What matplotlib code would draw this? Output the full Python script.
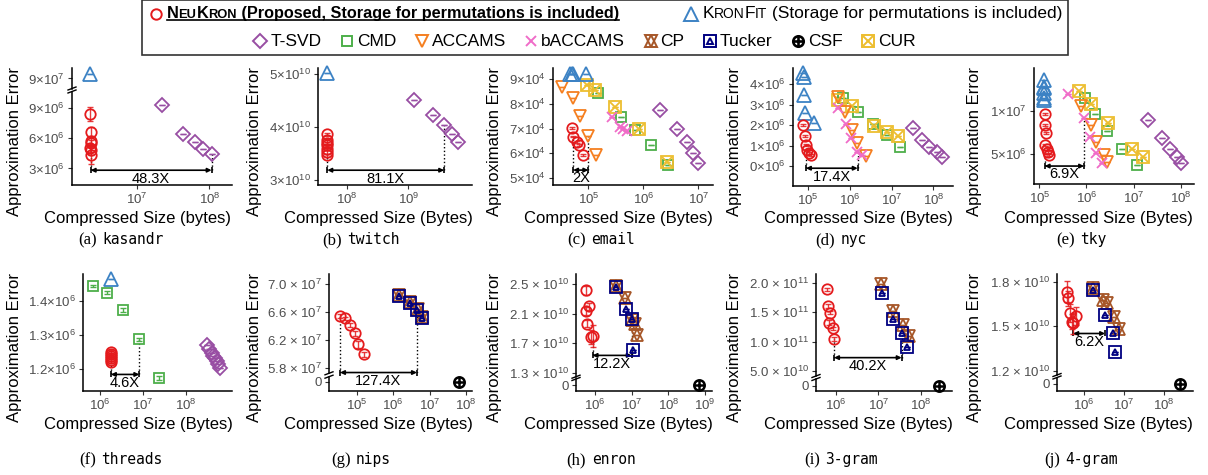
import matplotlib

matplotlib.use("Agg")
import matplotlib.pyplot as plt
import numpy as np
from matplotlib.lines import Line2D
from matplotlib.offsetbox import AnchoredOffsetbox, DrawingArea, HPacker, TextArea, VPacker

plt.rcParams["font.family"] = ["Liberation Sans", "DejaVu Sans"]
plt.rcParams["mathtext.fontset"] = "custom"
plt.rcParams["mathtext.rm"] = "Liberation Sans"
plt.rcParams["mathtext.it"] = "Liberation Sans:italic"
plt.rcParams["mathtext.default"] = "regular"

W, H = 1208, 475

# ---------------------------------------------------------------- data
# (a) kasandr
KAS_NEUKRON_X = [2.30e6, 2.33e6, 2.35e6, 2.33e6, 2.31e6, 2.34e6, 2.36e6]
KAS_NEUKRON_Y = [8.35e6, 6.62e6, 5.70e6, 5.48e6, 4.98e6, 4.81e6, 4.32e6]
KAS_NEUKRON_ERR = [0.7e6, 0.45e6, 0.4e6, 0.35e6, 0.4e6, 0.5e6, 0.9e6]
KAS_KRONFIT_X = [2.30e6]
KAS_KRONFIT_Y = [9.09e7]
KAS_TSVD_X = [2.25e7, 4.37e7, 6.34e7, 8.24e7, 1.07e8]
KAS_TSVD_Y = [9.27e6, 6.43e6, 5.57e6, 4.91e6, 4.42e6]
KAS_ARROW = (2.33e6, 1.07e8, 2.83e6, 4.32e6, 4.42e6, "48.3X")

# (b) twitch
TW_NEUKRON_X = [4.85e7, 4.87e7, 4.86e7, 4.88e7, 4.86e7, 4.85e7, 4.87e7]
TW_NEUKRON_Y = [3.862e10, 3.749e10, 3.706e10, 3.655e10, 3.592e10, 3.528e10, 3.466e10]
TW_NEUKRON_ERR = [0.03e10, 0.03e10, 0.02e10, 0.02e10, 0.02e10, 0.03e10, 0.03e10]
TW_KRONFIT_X = [4.86e7]
TW_KRONFIT_Y = [5.01e10]
TW_TSVD_X = [1.24e9, 2.54e9, 3.79e9, 5.05e9, 6.46e9]
TW_TSVD_Y = [4.504e10, 4.234e10, 4.032e10, 3.875e10, 3.717e10]
TW_ARROW = (4.86e7, 3.79e9, 3.185e10, 3.466e10, 4.032e10, "81.1X")

# (c) email
EM_NEUKRON_X = [4.99e4, 5.3e4, 6.15e4, 6.86e4, 8.11e4]
EM_NEUKRON_Y = [7.04e4, 6.68e4, 6.45e4, 6.34e4, 5.94e4]
EM_NEUKRON_ERR = [0.04e4, 0.03e4, 0.03e4, 0.03e4, 0.03e4]
EM_KRONFIT_X = [4.7e4, 5.0e4, 5.3e4, 9.1e4]
EM_KRONFIT_Y = [9.2e4, 9.22e4, 9.2e4, 9.22e4]
EM_ACCAMS_X = [3.38e4, 5.27e4, 7.06e4, 1.0e5, 1.38e5]
EM_ACCAMS_Y = [8.70e4, 8.25e4, 7.51e4, 6.70e4, 5.93e4]
EM_CUR_X = [9.6e4, 1.32e5, 3.06e5, 8.45e5, 2.66e6]
EM_CUR_Y = [8.77e4, 8.57e4, 7.89e4, 6.99e4, 5.66e4]
EM_CMD_X = [1.52e5, 3.93e5, 7.08e5, 1.38e6, 2.85e6]
EM_CMD_Y = [8.46e4, 7.49e4, 6.95e4, 6.34e4, 5.53e4]
EM_BACCAMS_X = [2.66e5, 3.77e5, 4.33e5, 4.98e5]
EM_BACCAMS_Y = [7.49e4, 7.08e4, 6.99e4, 6.91e4]
EM_TSVD_X = [2.01e6, 4.05e6, 6.15e6, 8.11e6, 1.0e7]
EM_TSVD_Y = [7.76e4, 6.99e4, 6.45e4, 6.0e4, 5.62e4]
EM_ARROW = (5.3e4, 1.0e5, 5.32e4, 6.68e4, 6.70e4, "2X")

# (d) nyc
NY_NEUKRON_X = [7.6e4, 8.3e4, 8.8e4, 9.5e4, 1.06e5, 1.14e5]
NY_NEUKRON_Y = [2.0e6, 1.47e6, 1.02e6, 0.78e6, 0.62e6, 0.54e6]
NY_NEUKRON_ERR = [0.05e6, 0.05e6, 0.05e6, 0.05e6, 0.05e6, 0.05e6]
NY_KRONFIT_X = [7.6e4, 7.9e4, 7.9e4, 8.3e4, 1.38e5]
NY_KRONFIT_Y = [4.54e6, 4.37e6, 3.48e6, 2.58e6, 2.09e6]
NY_ACCAMS_X = [5.24e5, 7.59e5, 1.1e6, 1.44e6, 2.38e6]
NY_ACCAMS_Y = [3.39e6, 2.63e6, 1.76e6, 1.11e6, 0.5e6]
NY_CMD_X = [6.92e5, 1.58e6, 3.63e6, 7.59e6, 1.58e7]
NY_CMD_Y = [3.31e6, 2.66e6, 2.04e6, 1.51e6, 0.94e6]
NY_CUR_X = [5.24e5, 1.1e6, 3.77e6, 7.59e6, 1.44e7]
NY_CUR_Y = [3.23e6, 2.95e6, 1.97e6, 1.65e6, 1.48e6]
NY_BACCAMS_X = [5.24e5, 8.0e5, 1.04e6, 1.5e6, 1.9e6]
NY_BACCAMS_Y = [2.82e6, 2.04e6, 1.35e6, 0.70e6, 0.53e6]
NY_TSVD_X = [3.18e7, 5.24e7, 7.95e7, 1.2e8, 1.58e8]
NY_TSVD_Y = [1.87e6, 1.27e6, 0.94e6, 0.67e6, 0.45e6]
NY_ARROW = (8.8e4, 1.53e6, -0.11e6, 1.02e6, 0.70e6, "17.4X")

# (e) tky
TK_NEUKRON_X = [1.32e5, 1.32e5, 1.37e5, 1.32e5, 1.48e5, 1.55e5, 1.63e5]
TK_NEUKRON_Y = [9.62e6, 8.37e6, 7.48e6, 6.05e6, 5.55e6, 5.2e6, 4.88e6]
TK_NEUKRON_ERR = [0.1e6, 0.1e6, 0.1e6, 0.1e6, 0.1e6, 0.1e6, 0.1e6]
TK_KRONFIT_X = [1.25e5, 1.27e5, 1.26e5, 1.25e5, 1.27e5, 1.26e5]
TK_KRONFIT_Y = [1.36e7, 1.283e7, 1.264e7, 1.206e7, 1.155e7, 1.128e7]
TK_BACCAMS_X = [3.98e5, 8.9e5, 1.2e6, 1.6e6, 2.1e6]
TK_BACCAMS_Y = [1.194e7, 9.22e6, 7.01e6, 5.08e6, 3.92e6]
TK_CUR_X = [7.07e5, 1.26e6, 2.92e6, 9.44e6, 1.57e7]
TK_CUR_Y = [1.233e7, 1.078e7, 8.64e6, 5.58e6, 4.69e6]
TK_CMD_X = [9.5e5, 1.52e6, 2.75e6, 5.58e6, 1.16e7]
TK_CMD_Y = [1.155e7, 9.62e6, 7.67e6, 5.55e6, 3.72e6]
TK_ACCAMS_X = [7.57e5, 1.23e6, 1.6e6, 2.35e6, 2.75e6]
TK_ACCAMS_Y = [1.062e7, 8.37e6, 6.36e6, 4.88e6, 4.03e6]
TK_TSVD_X = [2.06e7, 3.97e7, 5.96e7, 8.26e7, 1.0e8]
TK_TSVD_Y = [8.95e6, 6.9e6, 5.58e6, 4.69e6, 3.99e6]
TK_ARROW = (1.3e5, 8.9e5, 3.6e6, 4.88e6, 9.22e6, "6.9X")

# (f) threads
TH_NEUKRON_X = [1.78e6, 1.8e6, 1.82e6, 1.79e6, 1.81e6, 1.8e6]
TH_NEUKRON_Y = [1.251e6, 1.245e6, 1.24e6, 1.234e6, 1.228e6, 1.221e6]
TH_NEUKRON_ERR = [0.004e6, 0.004e6, 0.004e6, 0.004e6, 0.004e6, 0.004e6]
TH_KRONFIT_X = [1.8e6]
TH_KRONFIT_Y = [1.462e6]
TH_CMD_X = [6.75e5, 1.43e6, 3.36e6, 8.2e6, 2.39e7]
TH_CMD_Y = [1.443e6, 1.424e6, 1.373e6, 1.288e6, 1.174e6]
TH_CMD_ERR = [0.003e6, 0.005e6, 0.005e6, 0.004e6, 0.005e6]
TH_TSVD_X = [3.0e8, 3.45e8, 3.95e8, 4.3e8, 4.73e8, 5.15e8, 5.6e8, 6.2e8]
TH_TSVD_Y = [1.271e6, 1.26e6, 1.248e6, 1.24e6, 1.232e6, 1.224e6, 1.215e6, 1.203e6]
TH_ARROW = (1.8e6, 8.2e6, 1.185e6, 1.221e6, 1.288e6, "4.6X")

# (g) nips
NI_NEUKRON_X = [3.52e4, 4.82e4, 6.6e4, 9.0e4, 1.11e5, 1.59e5]
NI_NEUKRON_Y = [6.551e7, 6.514e7, 6.419e7, 6.30e7, 6.143e7, 6.0e7]
NI_NEUKRON_ERR = [0.03e7, 0.02e7, 0.03e7, 0.04e7, 0.05e7, 0.04e7]
NI_TUCKER_X = [1.45e6, 2.85e6, 4.5e6, 6.3e6]
NI_TUCKER_Y = [6.833e7, 6.729e7, 6.633e7, 6.514e7]
NI_CP_X = [1.45e6, 2.9e6, 4.7e6, 6.3e6]
NI_CP_Y = [6.85e7, 6.745e7, 6.65e7, 6.53e7]
NI_CSF_X = [6.6e7]
NI_CSF_Y = [0]
NI_ARROW = (3.52e4, 4.5e6, 5.74e7, 6.551e7, 6.633e7, "127.4X")

# (h) enron
EN_NEUKRON_X = [5.7e5, 7.0e5, 5.7e5, 6.2e5, 8.6e5, 7.8e5]
EN_NEUKRON_Y = [2.418e10, 2.2e10, 2.137e10, 1.965e10, 1.793e10, 1.783e10]
EN_NEUKRON_ERR = [0.06e10, 0.05e10, 0.05e10, 0.05e10, 0.15e10, 0.1e10]
EN_TUCKER_X = [3.67e6, 7.16e6, 1.0e7, 1.1e7]
EN_TUCKER_Y = [2.464e10, 2.156e10, 2.033e10, 1.611e10]
EN_CP_X = [3.67e6, 6.6e6, 1.0e7, 1.24e7, 1.43e7]
EN_CP_Y = [2.473e10, 2.305e10, 2.02e10, 1.956e10, 1.806e10]
EN_CSF_X = [7.0e8]
EN_CSF_Y = [0]
EN_ARROW = (8.6e5, 1.0e7, 1.534e10, 1.783e10, 2.033e10, "12.2X")

# (i) 3-gram
G3_NEUKRON_X = [6.0e5, 6.6e5, 7.2e5, 6.95e5, 8.3e5, 9.0e5]
G3_NEUKRON_Y = [1.888e11, 1.605e11, 1.492e11, 1.322e11, 1.227e11, 1.046e11]
G3_NEUKRON_ERR = [0.03e11, 0.03e11, 0.03e11, 0.04e11, 0.03e11, 0.03e11]
G3_TUCKER_X = [1.2e7, 2.2e7, 3.55e7, 4.67e7]
G3_TUCKER_Y = [1.82e11, 1.38e11, 1.142e11, 0.905e11]
G3_CP_X = [1.16e7, 2.26e7, 3.78e7, 5.4e7]
G3_CP_Y = [1.978e11, 1.525e11, 1.283e11, 1.097e11]
G3_CSF_X = [2.7e8]
G3_CSF_Y = [0]
G3_ARROW = (9.0e5, 3.55e7, 0.73e11, 1.046e11, 1.142e11, "40.2X")

# (j) 4-gram
G4_NEUKRON_X = [3.83e5, 4.0e5, 4.47e5, 6.3e5, 4.93e5, 5.4e5]
G4_NEUKRON_Y = [1.733e10, 1.688e10, 1.587e10, 1.569e10, 1.53e10, 1.52e10]
G4_NEUKRON_ERR = [0.07e10, 0.05e10, 0.06e10, 0.06e10, 0.05e10, 0.07e10]
G4_TUCKER_X = [1.65e6, 3.35e6, 5.2e6, 5.96e6]
G4_TUCKER_Y = [1.744e10, 1.576e10, 1.456e10, 1.328e10]
G4_CP_X = [1.65e6, 3.04e6, 3.69e6, 5.62e6, 7.64e6]
G4_CP_Y = [1.755e10, 1.677e10, 1.654e10, 1.56e10, 1.479e10]
G4_CSF_X = [2.5e8]
G4_CSF_Y = [0]
G4_ARROW = (5.4e5, 3.36e6, 1.452e10, 1.52e10, 1.452e10, "6.2X")

# ---------------------------------------------------------------- styles
COLORS = {
    "NeuKron": "#E41A1C",
    "KronFit": "#3C82C4",
    "T-SVD": "#984EA3",
    "CMD": "#4DAF4A",
    "ACCAMS": "#F57F20",
    "bACCAMS": "#F06CC8",
    "CP": "#A65628",
    "Tucker": "#000080",
    "CSF": "black",
    "CUR": "#EDBE2F",
}
MARKERS = {
    "NeuKron": [("o", 7.5)],
    "KronFit": [("^", 9.5)],
    "T-SVD": [("D", 7.0)],
    "CMD": [("s", 7.5)],
    "ACCAMS": [("v", 9.0)],
    "bACCAMS": [("x", 7.5)],
    "CP": [("^", 9.0), ("v", 9.0)],
    "Tucker": [("s", 8.0), ("^", 5.0)],
    "CSF": [("o", 7.5), ("+", 7.5)],
    "CUR": [("s", 8.0), ("x", 7.0)],
}
TICK_GRAY = "#4D4D4D"


def px_axes(fig, left, right, top, bottom):
    return fig.add_axes([left / W, 1 - bottom / H, (right - left) / W, (bottom - top) / H])


def style_axes(ax, bottom=True):
    ax.spines["top"].set_visible(False)
    ax.spines["right"].set_visible(False)
    ax.spines["bottom"].set_visible(bottom)
    for s in ("left", "bottom"):
        ax.spines[s].set_linewidth(1.1)
    ax.set_facecolor("none")
    ax.tick_params(axis="both", which="major", length=3, width=0.8, color="#333333",
                   labelcolor=TICK_GRAY, labelsize=9.5, pad=2)
    ax.tick_params(axis="x", which="minor", bottom=False)
    if not bottom:
        ax.tick_params(axis="x", which="both", bottom=False, labelbottom=False)


def add_series(ax, method, x, y, yerr=None):
    color = COLORS[method]
    if method != "CSF":
        err = np.zeros(len(x)) if yerr is None else yerr
        ax.errorbar(x, y, yerr=err, fmt="none", ecolor=color, elinewidth=1.0,
                    capsize=2.2, capthick=1.0, zorder=3, clip_on=False,
                    alpha=0.85 if method == "NeuKron" else 1.0)
    mew = 1.8 if method == "CSF" else 1.3
    for marker, ms in MARKERS[method]:
        ax.plot(x, y, ls="none", marker=marker, ms=ms, mfc="none", mec=color,
                mew=mew, zorder=4, clip_on=False)


def draw_arrow(ax, spec):
    x0, x1, ya, yp0, yp1, label = spec
    ax.plot([x0, x0], [ya, yp0], ls=":", color="black", lw=1.0, zorder=2)
    ax.plot([x1, x1], [ya, yp1], ls=":", color="black", lw=1.0, zorder=2)
    ax.annotate("", xy=(x1, ya), xytext=(x0, ya),
                arrowprops=dict(arrowstyle="<|-|>", color="black", lw=1.2,
                                mutation_scale=6, shrinkA=0, shrinkB=0),
                annotation_clip=False)
    ax.plot([x0, x1], [ya, ya], ls="none", marker="|", ms=5, mew=1.2, color="black",
            clip_on=False)
    ax.annotate(label, (np.sqrt(x0 * x1), ya), xytext=(0, -1), textcoords="offset points",
                ha="center", va="top", fontsize=10.5, annotation_clip=False)


def break_marks(fig, x, y_top, y_bot):
    for y in (y_top, y_bot):
        fig.add_artist(Line2D([(x - 4) / W, (x + 4) / W], [1 - (y + 1.5) / H, 1 - (y - 1.5) / H],
                              color="black", lw=1.0))


def decade_labels(ticks):
    return [r"$10^{%d}$" % round(np.log10(t)) for t in ticks]


PANELS = [
    dict(col=0, row=0, cap=("(a)", "kasandr"), lr=(72, 232), span=(91.5, 184.5),
         xlabel="Compressed Size (bytes)", xlim=(10**6.11, 10**8.31), xticks=[1e7, 1e8],
         ylim=(1.42e6, 10.6e6), yticks=[3e6, 6e6, 9e6],
         ylabels=["$3×10^{6}$", "$6×10^{6}$", "$9×10^{6}$"],
         series=[("T-SVD", KAS_TSVD_X, KAS_TSVD_Y, None),
                 ("NeuKron", KAS_NEUKRON_X, KAS_NEUKRON_Y, KAS_NEUKRON_ERR)],
         extra=dict(span=(68.3, 88.5), ylim=(8.8e7, 9.2e7), yticks=[9e7],
                    ylabels=["$9×10^{7}$"], side="top",
                    series=[("KronFit", KAS_KRONFIT_X, KAS_KRONFIT_Y, None)]),
         arrow=KAS_ARROW),
    dict(col=1, row=0, cap=("(b)", "twitch"), lr=(318, 472), span=(68.3, 185),
         xlabel="Compressed Size (Bytes)", xlim=(10**7.535, 10**10.03), xticks=[1e8, 1e9],
         ylim=(2.906e10, 5.107e10), yticks=[3e10, 4e10, 5e10],
         ylabels=["$3×10^{10}$", "$4×10^{10}$", "$5×10^{10}$"],
         series=[("T-SVD", TW_TSVD_X, TW_TSVD_Y, None),
                 ("KronFit", TW_KRONFIT_X, TW_KRONFIT_Y, None),
                 ("NeuKron", TW_NEUKRON_X, TW_NEUKRON_Y, TW_NEUKRON_ERR)],
         extra=None, arrow=TW_ARROW),
    dict(col=2, row=0, cap=("(c)", "email"), lr=(553, 713), span=(68.3, 185),
         xlabel="Compressed Size (Bytes)", xlim=(10**4.358, 10**7.267), xticks=[1e5, 1e6, 1e7],
         ylim=(4.716e4, 9.446e4), yticks=[5e4, 6e4, 7e4, 8e4, 9e4],
         ylabels=["$5×10^{4}$", "$6×10^{4}$", "$7×10^{4}$", "$8×10^{4}$", "$9×10^{4}$"],
         series=[("T-SVD", EM_TSVD_X, EM_TSVD_Y, None),
                 ("CMD", EM_CMD_X, EM_CMD_Y, None),
                 ("CUR", EM_CUR_X, EM_CUR_Y, None),
                 ("bACCAMS", EM_BACCAMS_X, EM_BACCAMS_Y, None),
                 ("ACCAMS", EM_ACCAMS_X, EM_ACCAMS_Y, None),
                 ("KronFit", EM_KRONFIT_X, EM_KRONFIT_Y, None),
                 ("NeuKron", EM_NEUKRON_X, EM_NEUKRON_Y, EM_NEUKRON_ERR)],
         extra=None, arrow=EM_ARROW),
    dict(col=3, row=0, cap=("(d)", "nyc"), lr=(793, 953), span=(68.3, 185.7),
         xlabel="Compressed Size (Bytes)", xlim=(10**4.633, 10**8.472),
         xticks=[1e5, 1e6, 1e7, 1e8],
         ylim=(-0.965e6, 4.78e6), yticks=[0, 1e6, 2e6, 3e6, 4e6],
         ylabels=["$0×10^{6}$", "$1×10^{6}$", "$2×10^{6}$", "$3×10^{6}$", "$4×10^{6}$"],
         series=[("T-SVD", NY_TSVD_X, NY_TSVD_Y, None),
                 ("CMD", NY_CMD_X, NY_CMD_Y, None),
                 ("CUR", NY_CUR_X, NY_CUR_Y, None),
                 ("ACCAMS", NY_ACCAMS_X, NY_ACCAMS_Y, None),
                 ("bACCAMS", NY_BACCAMS_X, NY_BACCAMS_Y, None),
                 ("KronFit", NY_KRONFIT_X, NY_KRONFIT_Y, None),
                 ("NeuKron", NY_NEUKRON_X, NY_NEUKRON_Y, NY_NEUKRON_ERR)],
         extra=None, arrow=NY_ARROW),
    dict(col=4, row=0, cap=("(e)", "tky"), lr=(1034, 1194), span=(68.3, 184.3),
         xlabel="Compressed Size (Bytes)", xlim=(10**4.887, 10**8.283),
         xticks=[1e5, 1e6, 1e7, 1e8],
         ylim=(1.48e6, 1.496e7), yticks=[5e6, 1e7],
         ylabels=["$5×10^{6}$", "$1×10^{7}$"],
         series=[("T-SVD", TK_TSVD_X, TK_TSVD_Y, None),
                 ("CMD", TK_CMD_X, TK_CMD_Y, None),
                 ("CUR", TK_CUR_X, TK_CUR_Y, None),
                 ("ACCAMS", TK_ACCAMS_X, TK_ACCAMS_Y, None),
                 ("bACCAMS", TK_BACCAMS_X, TK_BACCAMS_Y, None),
                 ("KronFit", TK_KRONFIT_X, TK_KRONFIT_Y, None),
                 ("NeuKron", TK_NEUKRON_X, TK_NEUKRON_Y, TK_NEUKRON_ERR)],
         extra=None, arrow=TK_ARROW),
    dict(col=0, row=1, cap=("(f)", "threads"), lr=(83, 232), span=(274, 391),
         xlabel="Compressed Size (Bytes)", xlim=(10**5.605, 10**9.07), xticks=[1e6, 1e7, 1e8],
         ylim=(1.1367e6, 1.478e6), yticks=[1.2e6, 1.3e6, 1.4e6],
         ylabels=["$1.2×10^{6}$", "$1.3×10^{6}$", "$1.4×10^{6}$"],
         series=[("T-SVD", TH_TSVD_X, TH_TSVD_Y, None),
                 ("CMD", TH_CMD_X, TH_CMD_Y, TH_CMD_ERR),
                 ("KronFit", TH_KRONFIT_X, TH_KRONFIT_Y, None),
                 ("NeuKron", TH_NEUKRON_X, TH_NEUKRON_Y, TH_NEUKRON_ERR)],
         extra=None, arrow=TH_ARROW),
    dict(col=1, row=1, cap=("(g)", "nips"), lr=(329, 472), span=(274, 373.3),
         xlabel="Compressed Size (Bytes)", xlim=(10**4.243, 10**8.164),
         xticks=[1e5, 1e6, 1e7, 1e8],
         ylim=(5.729e7, 7.147e7), yticks=[5.8e7, 6.2e7, 6.6e7, 7.0e7],
         ylabels=[r"$5.8\ ×\ 10^{7}$", r"$6.2\ ×\ 10^{7}$", r"$6.6\ ×\ 10^{7}$",
                  r"$7.0\ ×\ 10^{7}$"],
         series=[("CP", NI_CP_X, NI_CP_Y, None),
                 ("Tucker", NI_TUCKER_X, NI_TUCKER_Y, None),
                 ("NeuKron", NI_NEUKRON_X, NI_NEUKRON_Y, NI_NEUKRON_ERR)],
         extra=dict(span=(376.7, 391), ylim=(-0.65, 0.35), yticks=[0], ylabels=["0"],
                    side="bottom", series=[("CSF", NI_CSF_X, NI_CSF_Y, None)]),
         arrow=NI_ARROW),
    dict(col=2, row=1, cap=("(h)", "enron"), lr=(576, 712), span=(274, 376.7),
         xlabel="Compressed Size (Bytes)", xlim=(10**5.482, 10**9.19),
         xticks=[1e6, 1e7, 1e8, 1e9],
         ylim=(1.2456e10, 2.636e10), yticks=[1.3e10, 1.7e10, 2.1e10, 2.5e10],
         ylabels=[r"$1.3\ ×\ 10^{10}$", r"$1.7\ ×\ 10^{10}$", r"$2.1\ ×\ 10^{10}$",
                  r"$2.5\ ×\ 10^{10}$"],
         series=[("CP", EN_CP_X, EN_CP_Y, None),
                 ("Tucker", EN_TUCKER_X, EN_TUCKER_Y, None),
                 ("NeuKron", EN_NEUKRON_X, EN_NEUKRON_Y, EN_NEUKRON_ERR)],
         extra=dict(span=(379, 391), ylim=(-0.5, 0.5), yticks=[0], ylabels=["0"],
                    side="bottom", series=[("CSF", EN_CSF_X, EN_CSF_Y, None)]),
         arrow=EN_ARROW),
    dict(col=3, row=1, cap=("(i)", "3-gram"), lr=(816, 952), span=(274, 376),
         xlabel="Compressed Size (Bytes)", xlim=(10**5.527, 10**8.74),
         xticks=[1e6, 1e7, 1e8],
         ylim=(4.19e10, 2.147e11), yticks=[5e10, 1e11, 1.5e11, 2e11],
         ylabels=[r"$5.0\ ×\ 10^{10}$", r"$1.0\ ×\ 10^{11}$", r"$1.5\ ×\ 10^{11}$",
                  r"$2.0\ ×\ 10^{11}$"],
         series=[("CP", G3_CP_X, G3_CP_Y, None),
                 ("Tucker", G3_TUCKER_X, G3_TUCKER_Y, None),
                 ("NeuKron", G3_NEUKRON_X, G3_NEUKRON_Y, G3_NEUKRON_ERR)],
         extra=dict(span=(379, 391), ylim=(-0.42, 0.58), yticks=[0], ylabels=["0"],
                    side="bottom", series=[("CSF", G3_CSF_X, G3_CSF_Y, None)]),
         arrow=G3_ARROW),
    dict(col=4, row=1, cap=("(j)", "4-gram"), lr=(1057, 1193), span=(274, 375),
         xlabel="Compressed Size (Bytes)", xlim=(10**5.325, 10**8.725),
         xticks=[1e6, 1e7, 1e8],
         ylim=(1.173e10, 1.852e10), yticks=[1.2e10, 1.5e10, 1.8e10],
         ylabels=[r"$1.2\ ×\ 10^{10}$", r"$1.5\ ×\ 10^{10}$", r"$1.8\ ×\ 10^{10}$"],
         series=[("CP", G4_CP_X, G4_CP_Y, None),
                 ("Tucker", G4_TUCKER_X, G4_TUCKER_Y, None),
                 ("NeuKron", G4_NEUKRON_X, G4_NEUKRON_Y, G4_NEUKRON_ERR)],
         extra=dict(span=(377.5, 391), ylim=(-0.52, 0.48), yticks=[0], ylabels=["0"],
                    side="bottom", series=[("CSF", G4_CSF_X, G4_CSF_Y, None)]),
         arrow=G4_ARROW),
]


def setup_x(ax, p, show):
    ax.set_xscale("log")
    ax.set_xlim(*p["xlim"])
    ax.set_xticks(p["xticks"])
    ax.set_xticklabels(decade_labels(p["xticks"]))
    ax.xaxis.set_minor_locator(matplotlib.ticker.NullLocator())
    style_axes(ax, bottom=show)


def draw_panel(fig, p):
    left, right = p["lr"]
    top, bot = p["span"]
    extra = p["extra"]
    main_has_bottom = extra is None or extra["side"] == "top"
    ax = px_axes(fig, left, right, top, bot)
    setup_x(ax, p, main_has_bottom)
    ax.set_ylim(*p["ylim"])
    ax.set_yticks(p["yticks"])
    ax.set_yticklabels(p["ylabels"])
    for method, x, y, err in p["series"]:
        add_series(ax, method, x, y, err)
    draw_arrow(ax, p["arrow"])

    if extra is not None:
        et, eb = extra["span"]
        ex = px_axes(fig, left, right, et, eb)
        setup_x(ex, p, extra["side"] == "bottom")
        ex.set_ylim(*extra["ylim"])
        ex.set_yticks(extra["yticks"])
        ex.set_yticklabels(extra["ylabels"])
        for method, x, y, err in extra["series"]:
            add_series(ex, method, x, y, err)
        if extra["side"] == "top":
            break_marks(fig, left, eb, top)
        else:
            break_marks(fig, left, bot, et)

    # axis titles and caption
    off = p["col"] * 240
    row_top = 68.3 if p["row"] == 0 else 274
    fig.text((off + 15) / W, 1 - (row_top + 73) / H, "Approximation Error", rotation=90,
             ha="center", va="center", fontsize=12)
    fig.text((off + 138) / W, 1 - (row_top + 150) / H, p["xlabel"], ha="center",
             va="center", fontsize=12)
    cap = HPacker(children=[
        TextArea(p["cap"][0], textprops=dict(family="Liberation Serif", fontsize=12)),
        TextArea(p["cap"][1], textprops=dict(family="DejaVu Sans Mono", fontsize=10.5)),
    ], sep=4, align="baseline")
    cy = 240 if p["row"] == 0 else 460
    fig.add_artist(AnchoredOffsetbox(loc="center", child=cap, pad=0, borderpad=0,
                                     frameon=False,
                                     bbox_to_anchor=((off + 121) / W, 1 - cy / H),
                                     bbox_transform=fig.transFigure))


def marker_box(method, size=12):
    da = DrawingArea(size, size, 0, 0)
    color = COLORS[method]
    mew = 1.9 if method == "CSF" else 1.4
    for marker, ms in MARKERS[method]:
        da.add_artist(Line2D([size / 2], [size / 2], ls="none", marker=marker, ms=ms,
                             mfc="none", mec=color, mew=mew))
    return da


def build_legend(fig):
    big, small = 12.5, 10
    bbig, bsmall = 11.7, 9.3
    bold = dict(fontweight="bold", color="black")
    neu_parts = [
        TextArea("N", textprops=dict(fontsize=bbig, **bold)),
        TextArea("EU", textprops=dict(fontsize=bsmall, **bold)),
        TextArea("K", textprops=dict(fontsize=bbig, **bold)),
        TextArea("RON", textprops=dict(fontsize=bsmall, **bold)),
        TextArea(" (Proposed, Storage for permutations is included)",
                 textprops=dict(fontsize=bbig, **bold)),
    ]
    neu = HPacker(children=neu_parts, sep=0, align="baseline")
    kron = HPacker(children=[
        TextArea("K", textprops=dict(fontsize=big)),
        TextArea("RON", textprops=dict(fontsize=small)),
        TextArea("F", textprops=dict(fontsize=big)),
        TextArea("IT", textprops=dict(fontsize=small)),
        TextArea(" (Storage for permutations is included)", textprops=dict(fontsize=big)),
    ], sep=0, align="baseline")
    row1 = HPacker(children=[
        HPacker(children=[marker_box("NeuKron"), neu], sep=2, align="center"),
        HPacker(children=[marker_box("KronFit"), kron], sep=2, align="center"),
    ], sep=46, align="center")
    entries = []
    for m in ["T-SVD", "CMD", "ACCAMS", "bACCAMS", "CP", "Tucker", "CSF", "CUR"]:
        entries.append(HPacker(children=[marker_box(m),
                                         TextArea(m, textprops=dict(fontsize=big))],
                               sep=1, align="center"))
    entries.append(DrawingArea(18, 2, 0, 0))
    row2 = HPacker(children=entries, sep=12.5, align="center")
    box = VPacker(children=[row1, row2], sep=8, align="center")
    anchored = AnchoredOffsetbox(loc="upper center", child=box, pad=0.35, borderpad=0,
                                 frameon=True, bbox_to_anchor=(605 / W, 1 - 0.5 / H),
                                 bbox_transform=fig.transFigure)
    anchored.patch.set_edgecolor("#333333")
    anchored.patch.set_linewidth(1.2)
    fig.add_artist(anchored)
    return neu_parts


fig = plt.figure(figsize=(W / 100, H / 100), dpi=100)
for panel in PANELS:
    draw_panel(fig, panel)
neu_parts = build_legend(fig)

fig.canvas.draw()
renderer = fig.canvas.get_renderer()
first = neu_parts[0]._text.get_window_extent(renderer)
last = neu_parts[-1]._text.get_window_extent(renderer)
y_line = (min(first.y0, last.y0) + 1.0) / H
fig.add_artist(Line2D([first.x0 / W, last.x1 / W], [y_line, y_line], color="black", lw=1.2,
                      zorder=10))

fig.savefig("out.png", dpi=100)
